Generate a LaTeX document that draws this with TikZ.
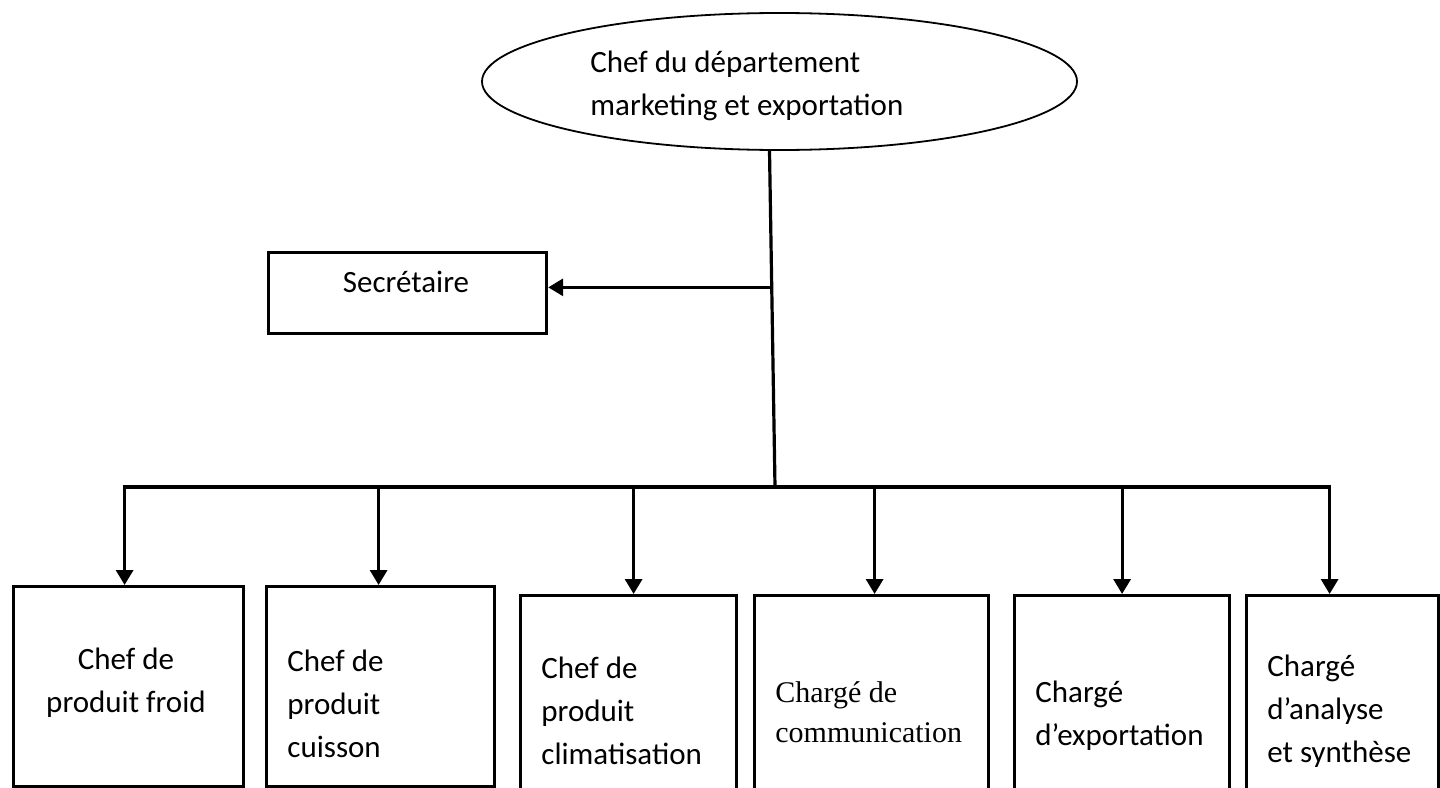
\documentclass[tikz,border=0pt]{standalone}
\usepackage{fontspec}
\setmainfont{Carlito}
\newfontfamily\timesfont{Liberation Serif}
\usetikzlibrary{shapes.geometric,arrows.meta,calc}

\begin{document}
\begin{tikzpicture}[x=0.5pt,y=-0.5pt,
        box/.style={draw,line width=1.6pt,rectangle,anchor=north west,inner sep=0pt},
        txt/.style={font=\fontsize{15.5}{21.5}\selectfont,align=left,inner sep=0pt,anchor=west},
        conn/.style={line width=1.6pt},
        arr/.style={conn,-{Triangle[length=7.5pt,width=8.5pt]}}]
        \useasboundingbox (0,0) rectangle (1440,787);
        \clip (0,0) rectangle (1440,787);
        % direction
        \node[ellipse,draw,line width=0.9pt,minimum width=297.5pt,minimum height=68.5pt] (chef) at (779.5,81.5) {};
        \node[txt] (chefT) at (590,86) {Chef du département\\marketing et exportation};
        \node[box,minimum width=139pt,minimum height=40.5pt] (sec) at (267,251) {};
        \node[txt,anchor=center] (secT) at (406,282) {Secrétaire};
        % services
        \node[box,minimum width=115pt,minimum height=100pt] (b1) at (12,585) {};
        \node[box,minimum width=114pt,minimum height=100pt] (b2) at (265,585) {};
        \node[box,minimum width=108pt,minimum height=110pt] (b3) at (519,594) {};
        \node[box,minimum width=117pt,minimum height=110pt] (b4) at (753,594) {};
        \node[box,minimum width=107.5pt,minimum height=110pt] (b5) at (1013,594) {};
        \node[box,minimum width=96pt,minimum height=110pt] (b6) at (1245,594) {};
        \node[txt,align=center,anchor=center] (t1) at (126,683) {Chef de\\produit froid};
        \node[txt] (t2) at (287,704) {Chef de\\produit\\cuisson};
        \node[txt] (t3) at (541,711) {Chef de\\produit\\climatisation};
        \node[txt,font=\timesfont\fontsize{15}{20}\selectfont] (t4) at (775,712) {Chargé de\\communication};
        \node[txt] (t5) at (1035,716) {Chargé\\d’exportation};
        \node[txt] (t6) at (1267,711) {Chargé\\d’analyse\\et synthèse};
        % liaisons
        \coordinate (top) at ($(chef.south)+(-10,0)$);
        \coordinate (bus) at (775,487);
        \coordinate (mid) at ($(top)!0.406!(bus)$);
        \draw[conn] (top) -- (bus);
        \draw[arr] (mid) -- (mid -| sec.east);
        \foreach \b/\dx in {b1/-2,b2/-1,b3/2.5,b4/1.5,b5/0,b6/-6.5}{
            \coordinate (\b-t) at ([xshift=\dx pt]\b.north);
            \draw[arr] (\b-t |- bus) -- (\b-t);
        }
        \draw[conn,line cap=rect] (b1-t |- bus) -- (b6-t |- bus);
        %\draw[conn] (sec.south) -- (b2.north);
\end{tikzpicture}
\end{document}
